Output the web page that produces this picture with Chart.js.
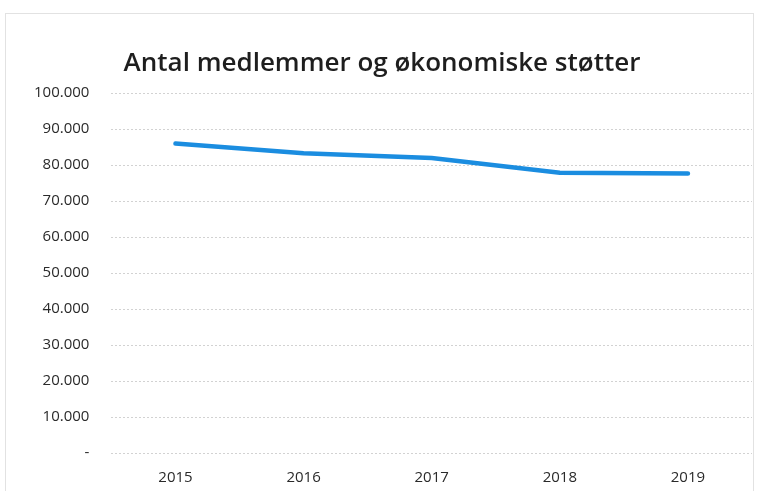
<!DOCTYPE html>
<html>
<head>
<meta charset="utf-8">
<script src="https://cdn.jsdelivr.net/npm/chart.js@4"></script>
<style>
  html, body { margin: 0; padding: 0; background: #fff; }
  #wrap { width: 760px; height: 491px; position: relative; }
</style>
</head>
<body>
<div id="wrap"><canvas id="c" width="760" height="491"></canvas></div>
<script>
// Values.
const years = ["2015", "2016", "2017", "2018", "2019"];
const members = [86000, 83300, 82000, 77900, 77700];
const TITLE = "Antal medlemmer og økonomiske støtter";

const LINE = "#1b8de0";
const GRID = "#d2d2d2";
const INK = "#2a2a2a";
const FONT = '"Open Sans", "Noto Sans", sans-serif';

// thousands with a dot, zero as a dash (accounting style)
function fmt(v) {
  if (v === 0) return "-";
  return String(v).replace(/\B(?=(\d{3})+(?!\d))/g, ".");
}

// faint frame of the pasted chart
const frame = {
  id: "frame",
  beforeDraw(chart) {
    const { ctx } = chart;
    ctx.save();
    ctx.strokeStyle = "#e2e2e2";
    ctx.lineWidth = 1;
    ctx.strokeRect(5.5, 13.5, 748, 500);
    ctx.restore();
  },
};

new Chart(document.getElementById("c"), {
  type: "line",
  data: {
    labels: years,
    datasets: [{
      data: members,
      borderColor: LINE,
      borderWidth: 4.5,
      pointRadius: 0,
      tension: 0,
      borderCapStyle: "round",
    }],
  },
  options: {
    responsive: false,
    animation: false,
    layout: { padding: { top: 48, left: 12, right: 8, bottom: -12 } },
    plugins: {
      legend: { display: false },
      tooltip: { enabled: false },
      title: {
        display: true,
        text: TITLE,
        color: "#1e1e1e",
        font: { family: FONT, size: 26, weight: "600" },
        padding: { top: 0, bottom: 14 },
      },
    },
    scales: {
      x: {
        offset: true,
        grid: { display: false, drawTicks: false },
        border: { display: false },
        ticks: { color: INK, font: { family: FONT, size: 15 }, padding: 16 },
      },
      y: {
        min: 0,
        max: 100000,
        border: { display: false, dash: [2, 2] },
        grid: { color: GRID, lineWidth: 1, drawTicks: false },
        ticks: {
          stepSize: 10000,
          color: INK,
          font: { family: FONT, size: 15 },
          padding: 22,
          callback: (v) => fmt(v),
        },
      },
    },
  },
  plugins: [frame],
});
</script>
</body>
</html>
